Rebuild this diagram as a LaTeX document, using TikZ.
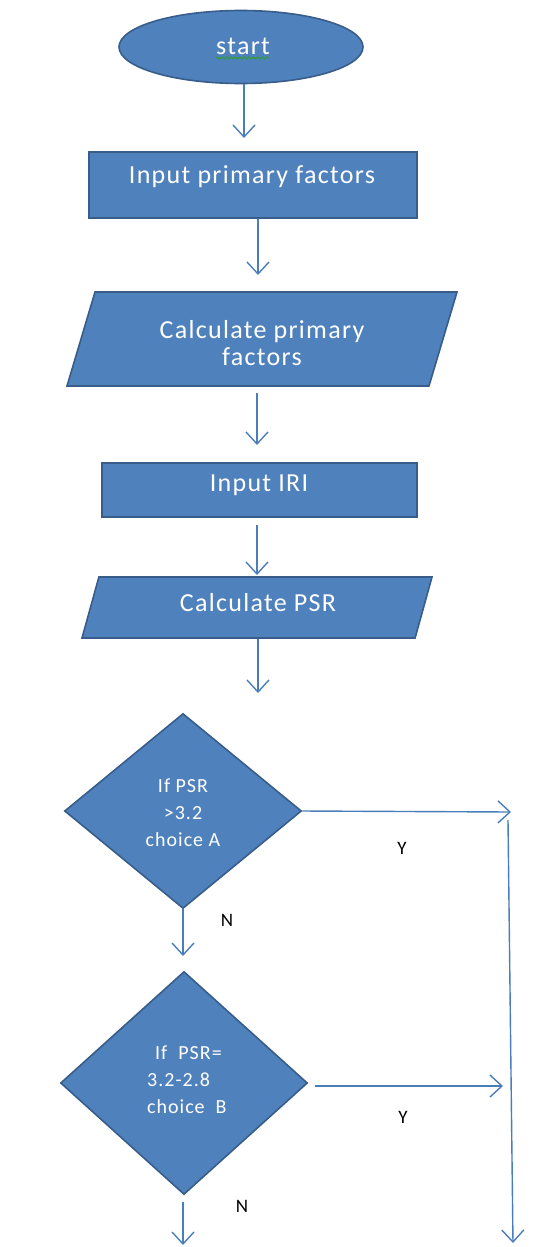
\documentclass[tikz,border=0pt]{standalone}
\usepackage{fontspec}
\setmainfont{Carlito}
\usetikzlibrary{shapes.geometric,arrows.meta,decorations.pathmorphing}
\definecolor{boxfill}{HTML}{4F81BD}
\definecolor{boxline}{HTML}{385D8A}
\definecolor{arrowcol}{HTML}{4A7EBB}
\definecolor{squig}{HTML}{2E9E2E}
\tikzset{
  shapebox/.style={fill=boxfill,draw=boxline,line width=1.6pt,inner sep=0pt},
  rectbox/.style={shapebox,rectangle},
  ellbox/.style={shapebox,ellipse},
  parabox/.style={shapebox,trapezium,trapezium stretches body},
  decbox/.style={shapebox,diamond},
  boxtext/.style={text=white,inner sep=0pt,font=\fontsize{26}{27}\selectfont\addfontfeature{LetterSpace=5}},
  dectext/.style={text=white,inner sep=0pt,font=\fontsize{20}{27}\selectfont\addfontfeature{LetterSpace=5}},
  flowarrow/.style={draw=arrowcol,line width=1.4pt,-{Straight Barb[length=12pt,width=22pt,line width=1.4pt]}},
  yn/.style={font=\fontsize{19}{20}\selectfont,text=black,inner sep=0pt}
}
\begin{document}
\begin{tikzpicture}[x=1pt,y=-1pt]
\fill[white] (0,0) rectangle (534,1247);
\useasboundingbox (0,0) rectangle (534,1247);

% shapes
\node[ellbox,minimum width=244pt,minimum height=73pt] (start) at (241,47) {};
\node[rectbox,minimum width=328pt,minimum height=66pt] (inpf) at (253,185) {};
\node[parabox,minimum width=390pt,minimum height=94pt,trapezium left angle=73.4,trapezium right angle=106.6] (calcpf) at (262,339) {\rule{0pt}{94pt}};
\node[rectbox,minimum width=315pt,minimum height=54pt] (iri) at (259.5,490) {};
\node[parabox,minimum width=350pt,minimum height=61pt,trapezium left angle=74.5,trapezium right angle=105.5] (psr) at (257,607.5) {\rule{0pt}{61pt}};
\node[decbox,minimum width=237pt,minimum height=195pt] (dA) at (183,811) {};
\node[decbox,minimum width=247pt,minimum height=223pt] (dB) at (184,1083) {};

% texts
\node[boxtext,anchor=base] (tstart) at (243,55) {start};
\draw[squig,line width=0.9pt,decorate,decoration={snake,amplitude=1.2pt,segment length=4.5pt}] ([yshift=-3pt]tstart.base west) -- ([yshift=-3pt]tstart.base east);
\node[boxtext,anchor=base] (tinpf) at (252,183) {Input primary factors};
\node[boxtext,anchor=base,align=center] (tcalcpf) at (262,365) {Calculate primary\\factors};
\node[boxtext,anchor=base] (tiri) at (259,491) {Input IRI};
\node[boxtext,anchor=base] (tpsr) at (258,611) {Calculate PSR};
\node[dectext,anchor=base,align=center] (tA) at (183,846) {If PSR\\>3.2\\choice A};
\node[dectext,anchor=base west,align=left] (tB) at (147,1113) {\hspace{8pt}If~~PSR=\\3.2-2.8\\choice~~B};

% connector coordinates
\coordinate (a1) at (244,138);
\coordinate (a2) at (258,275);
\coordinate (a3s) at (257,393);
\coordinate (a3) at (257,445);
\coordinate (a4s) at (257,525);
\coordinate (a4) at (257,575);
\coordinate (a5) at (258,693);
\coordinate (yAend) at (511,812);
\coordinate (vtop) at (508,820);
\coordinate (vbot) at (513,1243);
\coordinate (nAend) at (183,956);
\coordinate (yBs) at (315,1086);
\coordinate (yBend) at (503,1086);
\coordinate (nBs) at (183,1202);
\coordinate (nBend) at (183,1245);

% connectors
\draw[flowarrow] (start.south -| a1) -- (a1);
\draw[flowarrow] (inpf.south -| a2) -- (a2);
\draw[flowarrow] (a3s) -- (a3);
\draw[flowarrow] (a4s) -- (a4);
\draw[flowarrow] (psr.south -| a5) -- (a5);
\draw[flowarrow] (dA.east) -- (yAend);
\draw[flowarrow] (vtop) -- (vbot);
\draw[flowarrow] (dA.south) -- (nAend);
\draw[flowarrow] (yBs) -- (yBend);
\draw[flowarrow] (nBs) -- (nBend);

% labels
\node[yn,anchor=base] (lyA) at (402,854) {Y};
\node[yn,anchor=base] (lnA) at (227,926) {N};
\node[yn,anchor=base] (lyB) at (403,1123) {Y};
\node[yn,anchor=base] (lnB) at (242,1212) {N};
\end{tikzpicture}
\end{document}
